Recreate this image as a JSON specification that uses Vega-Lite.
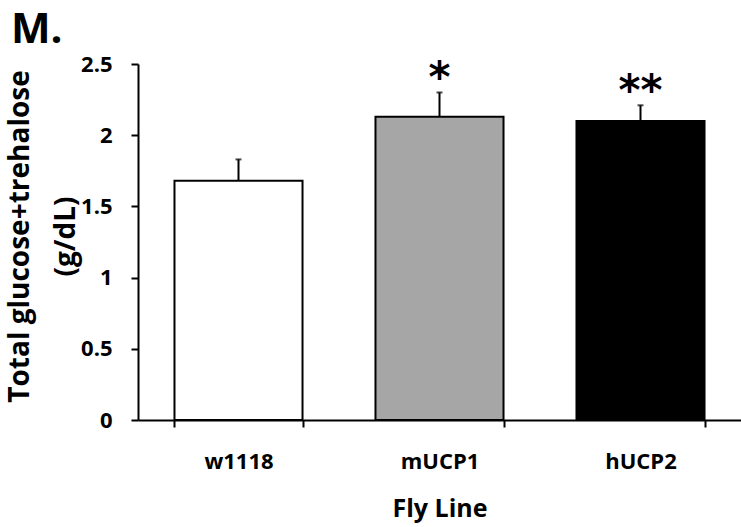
{
  "$schema": "https://vega.github.io/schema/vega-lite/v6.json",
  "autosize": "none",
  "width": 603,
  "height": 356,
  "padding": {"left": 138, "top": 64, "right": 0, "bottom": 107},
  "background": "white",
  "config": {
    "view": {"stroke": null},
    "font": "Open Sans",
    "axis": {"grid": false, "domainColor": "black", "tickColor": "black", "domainWidth": 2, "tickWidth": 2, "labelColor": "black", "titleColor": "black", "labelFont": "Open Sans", "titleFont": "Open Sans", "labelFontWeight": "bold", "titleFontWeight": "bold"}
  },
  "title": {"text": "M.", "anchor": "start", "frame": "group", "fontSize": 42, "fontWeight": "bold", "font": "Open Sans", "color": "black", "dx": -127, "offset": 0, "baseline": "top", "dy": -1},
  "data": {"values": [
    {"line": "w1118", "mean": 1.68, "hi": 1.83, "sig": ""},
    {"line": "mUCP1", "mean": 2.13, "hi": 2.30, "sig": "*"},
    {"line": "hUCP2", "mean": 2.10, "hi": 2.21, "sig": "**"}
  ]},
  "encoding": {
    "x": {"field": "line", "type": "nominal", "sort": null,
      "scale": {"paddingInner": 0.363, "paddingOuter": 0.1815},
      "axis": {"title": "Fly Line", "labelAngle": 0, "labelFontSize": 22, "titleFontSize": 25, "labelPadding": 24, "titlePadding": 24, "tickBand": "extent", "tickSize": 7}}
  },
  "layer": [
    {
      "mark": {"type": "bar", "stroke": "black", "strokeWidth": 2},
      "encoding": {
        "y": {"field": "mean", "type": "quantitative",
          "scale": {"domain": [0, 2.5], "nice": false},
          "axis": {"title": ["Total glucose+trehalose", "(g/dL)"], "values": [0, 0.5, 1, 1.5, 2, 2.5], "format": "~g", "labelFontSize": 22, "titleFontSize": 28, "labelPadding": 19, "titlePadding": 0, "tickSize": 7, "titleLineHeight": 46, "titleY": 172}},
        "fill": {"field": "line", "type": "nominal", "scale": {"domain": ["w1118", "mUCP1", "hUCP2"], "range": ["white", "#a6a6a6", "black"]}, "legend": null}
      }
    },
    {
      "mark": {"type": "rule", "color": "black", "strokeWidth": 2},
      "encoding": {"y": {"field": "mean", "type": "quantitative"}, "y2": {"field": "hi"}}
    },
    {
      "mark": {"type": "tick", "color": "black", "thickness": 2, "size": 6},
      "encoding": {"y": {"field": "hi", "type": "quantitative"}}
    },
    {
      "mark": {"type": "text", "fontSize": 42, "fontWeight": "bold", "font": "DejaVu Sans", "baseline": "alphabetic", "dy": 0, "color": "black"},
      "encoding": {"y": {"field": "hi", "type": "quantitative"}, "text": {"field": "sig"}}
    }
  ]
}
